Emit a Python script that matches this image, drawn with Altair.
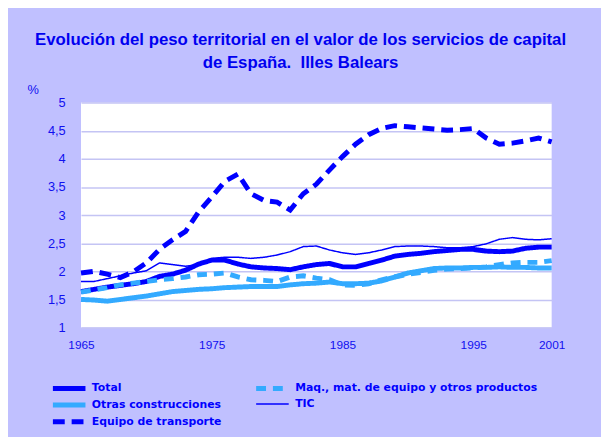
import altair as alt
import pandas as pd

years = list(range(1965, 2002))

total = [1.64, 1.68, 1.72, 1.75, 1.78, 1.82, 1.91, 1.95, 2.02, 2.13, 2.20, 2.20, 2.13,
         2.08, 2.06, 2.05, 2.03, 2.08, 2.12, 2.14, 2.08, 2.08, 2.14, 2.20, 2.27, 2.30,
         2.32, 2.35, 2.37, 2.39, 2.39, 2.36, 2.35, 2.36, 2.41, 2.43, 2.43]
otras = [1.50, 1.49, 1.47, 1.50, 1.53, 1.56, 1.60, 1.64, 1.66, 1.68, 1.69, 1.71, 1.72,
         1.73, 1.73, 1.73, 1.76, 1.78, 1.79, 1.81, 1.78, 1.78, 1.79, 1.83, 1.90, 1.97,
         2.01, 2.05, 2.06, 2.06, 2.07, 2.07, 2.08, 2.07, 2.07, 2.06, 2.06]
transporte = [1.97, 2.00, 1.95, 1.89, 1.99, 2.15, 2.39, 2.56, 2.71, 3.06, 3.32, 3.60, 3.73,
              3.38, 3.26, 3.23, 3.09, 3.38, 3.55, 3.80, 4.04, 4.26, 4.43, 4.54, 4.59, 4.57,
              4.55, 4.53, 4.51, 4.52, 4.54, 4.37, 4.26, 4.28, 4.32, 4.37, 4.30]
maq = [1.63, 1.67, 1.71, 1.76, 1.79, 1.82, 1.85, 1.87, 1.90, 1.94, 1.95, 1.97, 1.90,
       1.85, 1.84, 1.82, 1.90, 1.92, 1.88, 1.85, 1.76, 1.75, 1.78, 1.85, 1.90, 1.95,
       1.98, 2.02, 2.04, 2.05, 2.06, 2.08, 2.12, 2.15, 2.16, 2.16, 2.19]
tic = [1.82, 1.82, 1.87, 1.92, 1.97, 2.01, 2.15, 2.12, 2.09, 2.12, 2.23, 2.25, 2.25,
       2.23, 2.25, 2.29, 2.35, 2.44, 2.45, 2.38, 2.33, 2.30, 2.33, 2.38, 2.44, 2.45,
       2.45, 2.44, 2.42, 2.42, 2.44, 2.49, 2.57, 2.60, 2.57, 2.56, 2.58]

S_TOTAL = "Total"
S_OTRAS = "Otras construcciones"
S_TRANS = "Equipo de transporte"
S_MAQ = "Maq., mat. de equipo y otros productos"
S_TIC = "TIC"

series = {S_TOTAL: total, S_OTRAS: otras, S_TRANS: transporte, S_MAQ: maq, S_TIC: tic}

rows = []
for name, vals in series.items():
    for y, v in zip(years, vals):
        rows.append({"year": y, "value": v, "serie": name})
df = pd.DataFrame(rows)

# legend fills columns first: col 1 = Total, Otras, Equipo; col 2 = Maq, TIC
legend_order = [S_TOTAL, S_OTRAS, S_TRANS, S_MAQ, S_TIC]
colors = {S_TOTAL: "#0000FF", S_MAQ: "#33AAFF", S_OTRAS: "#33AAFF", S_TIC: "#0000FF", S_TRANS: "#0000FF"}
dashes = {S_TOTAL: [1, 0], S_MAQ: [10, 7], S_OTRAS: [1, 0], S_TIC: [1, 0], S_TRANS: [12, 7]}
widths = {S_TOTAL: 5, S_MAQ: 5, S_OTRAS: 5, S_TIC: 1.5, S_TRANS: 5}

legend = alt.Legend(
    title=None, orient="none", legendX=-18.5, legendY=283, columns=2,
    symbolType="M-4.125,0H4.125", symbolSize=64,
    symbolStrokeWidth=alt.expr("datum.value === 'TIC' ? 1.5 : 5"),
    labelFont="DejaVu Sans", labelFontSize=11,
    labelFontWeight="bold", labelColor="#0000FF", labelOffset=16.5, rowPadding=-4,
    columnPadding=25, labelLimit=400,
)

base = alt.Chart(df).mark_line().encode(
    x=alt.X("year:Q", scale=alt.Scale(domain=[1965, 2001], nice=False, zero=False),
            axis=alt.Axis(title=None, values=[1965, 1975, 1985, 1995, 2001], format="d",
                          grid=False, ticks=False, domain=False, labelPadding=12,
                          labelFont="Liberation Sans", labelFontSize=12, labelColor="#1010F0",
                          labelFlush=False)),
    y=alt.Y("value:Q", scale=alt.Scale(domain=[1, 5], nice=False, zero=False),
            axis=alt.Axis(title="%", titleAngle=0, titleX=-49, titleY=-13, titleAlign="center",
                          titleBaseline="middle", titleFont="Liberation Sans", titleFontSize=13,
                          titleFontWeight="normal", titleColor="#1010F0",
                          values=[1, 1.5, 2, 2.5, 3, 3.5, 4, 4.5, 5], format="~g",
                          labelExpr="replace(datum.label, '.', ',')",
                          ticks=False, domain=False, labelPadding=16, gridColor="#C4C4F4",
                          gridWidth=1.5, labelFont="Liberation Sans", labelFontSize=13,
                          labelColor="#1010F0")),
    color=alt.Color("serie:N", scale=alt.Scale(domain=legend_order,
                                               range=[colors[s] for s in legend_order]),
                    legend=legend),
    strokeDash=alt.StrokeDash("serie:N", scale=alt.Scale(domain=legend_order,
                                                         range=[dashes[s] for s in legend_order]),
                              legend=legend),
    strokeWidth=alt.StrokeWidth("serie:N", scale=alt.Scale(type="ordinal", domain=legend_order,
                                                           range=[widths[s] for s in legend_order]),
                                legend=None),
)

draw_order = [S_OTRAS, S_TOTAL, S_TRANS, S_MAQ, S_TIC]
layers = [base.transform_filter(alt.datum.serie == s) for s in draw_order]

chart = alt.layer(*layers).properties(
    width=477, height=228,
    autosize=alt.AutoSizeParams(type="none"),
    padding={"left": 74, "top": 93, "right": 50, "bottom": 108},
    background="#C0C0FF",
    title=alt.TitleParams(
        text=["Evolución del peso territorial en el valor de los servicios de capital",
              "de España.\u00a0 Illes Balears"],
        font="Liberation Sans", fontSize=17, fontWeight="bold", color="#0000F0",
        anchor="middle", frame="group", dx=-16, offset=12, lineHeight=23,
    ),
).configure_view(stroke=None, fill="white")

chart.save("out.html", embed_options={"renderer": "svg", "actions": False})
